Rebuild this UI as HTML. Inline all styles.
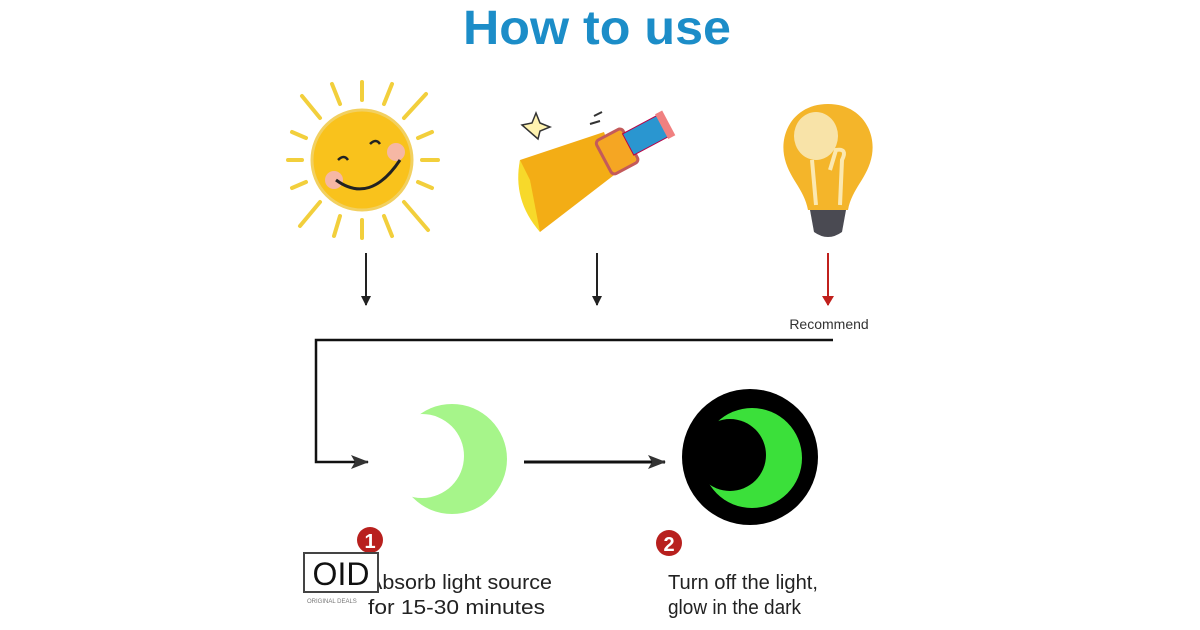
<!DOCTYPE html>
<html><head><meta charset="utf-8"><style>
html,body{margin:0;padding:0;background:#fff;}
svg{display:block;}
text{font-family:"Liberation Sans",sans-serif;}
</style></head><body>
<svg width="1200" height="630" viewBox="0 0 1200 630" xmlns="http://www.w3.org/2000/svg">
<defs>
<marker id="ah" markerWidth="10" markerHeight="10" refX="9" refY="5" orient="auto" markerUnits="userSpaceOnUse"><path d="M0,0 L10,5 L0,10 Z" fill="#222"/></marker>
<marker id="ahb" markerWidth="18" markerHeight="14" refX="17" refY="7" orient="auto" markerUnits="userSpaceOnUse"><path d="M0,0 L18,7 L0,14 L4,7 Z" fill="#333"/></marker>
<marker id="ahr" markerWidth="10" markerHeight="12" refX="9" refY="6" orient="auto" markerUnits="userSpaceOnUse"><path d="M0,0 L10,6 L0,12 Z" fill="#c0201c"/></marker>
<mask id="m1"><rect width="1200" height="630" fill="#000"/><circle cx="452" cy="459" r="55" fill="#fff"/><circle cx="422" cy="456" r="42" fill="#000"/></mask>
<mask id="m2"><rect width="1200" height="630" fill="#000"/><circle cx="752" cy="458" r="50" fill="#fff"/><circle cx="730" cy="455" r="36" fill="#000"/></mask>
</defs>
<text x="597" y="44" text-anchor="middle" font-size="48" font-weight="bold" fill="#1c8dc8" textLength="268" lengthAdjust="spacingAndGlyphs">How to use</text>

<!-- sun -->
<g stroke="#f2cf3c" stroke-width="4" stroke-linecap="round">
<line x1="362" y1="100" x2="362" y2="82"/><line x1="362" y1="220" x2="362" y2="238"/>
<line x1="302" y1="160" x2="288" y2="160"/><line x1="422" y1="160" x2="438" y2="160"/>
<line x1="320" y1="118" x2="302" y2="96"/><line x1="404" y1="118" x2="426" y2="94"/>
<line x1="320" y1="202" x2="300" y2="226"/><line x1="404" y1="202" x2="428" y2="230"/>
<line x1="340" y1="104" x2="332" y2="84"/><line x1="384" y1="104" x2="392" y2="84"/>
<line x1="340" y1="216" x2="334" y2="236"/><line x1="384" y1="216" x2="392" y2="236"/>
<line x1="306" y1="138" x2="292" y2="132"/><line x1="418" y1="138" x2="432" y2="132"/>
<line x1="306" y1="182" x2="292" y2="188"/><line x1="418" y1="182" x2="432" y2="188"/>
</g>
<circle cx="362" cy="160" r="50" fill="#f9c21c" stroke="#f2d060" stroke-width="3"/>
<circle cx="334" cy="180" r="9" fill="#f6b7a4"/><circle cx="396" cy="152" r="9" fill="#f6b7a4"/>
<path d="M336,180 Q370,205 400,160" stroke="#222" stroke-width="3" fill="none"/>
<path d="M338,160 q6,-6 10,0" stroke="#222" stroke-width="2.5" fill="none"/>
<path d="M370,144 q6,-6 10,0" stroke="#222" stroke-width="2.5" fill="none"/>

<!-- flashlight -->
<path d="M520,160 L604,132 L618,172 L540,232 Q515,200 520,160 Z" fill="#f3ad15"/>
<path d="M520,160 Q512,200 540,232 L530,180 Z" fill="#f7d92a"/>
<g transform="rotate(-28 625 145)">
<rect x="600" y="128" width="30" height="38" rx="4" fill="#f5a623" stroke="#c45a5a" stroke-width="3"/>
<rect x="628" y="134" width="40" height="24" fill="#2a96d0" stroke="#b04" stroke-width="1"/>
<rect x="666" y="132" width="8" height="28" fill="#f08080"/>
</g>
<path d="M522,125 l10,-2 l4,-10 l4,10 l10,4 l-10,4 l-2,8 z" fill="#fff3b0" stroke="#333" stroke-width="1.5"/>
<path d="M594,116 l8,-4 M590,124 l10,-3" stroke="#333" stroke-width="2"/>

<!-- bulb -->
<path d="M828,104 C860,104 876,130 872,155 C868,178 852,188 848,210 L808,210 C804,188 788,178 784,155 C780,130 796,104 828,104 Z" fill="#f4b52a"/>
<ellipse cx="816" cy="136" rx="22" ry="24" fill="#f8e3a8"/>
<path d="M816,205 L812,160 M840,205 L842,160 Q848,148 836,150 L830,170" stroke="#fbe8b0" stroke-width="4" fill="none"/>
<path d="M810,210 L846,210 L842,232 Q828,242 814,232 Z" fill="#4a4a52"/>

<!-- arrows down -->
<line x1="366" y1="253" x2="366" y2="305" stroke="#222" stroke-width="2" marker-end="url(#ah)"/>
<line x1="597" y1="253" x2="597" y2="305" stroke="#222" stroke-width="2" marker-end="url(#ah)"/>
<line x1="828" y1="253" x2="828" y2="305" stroke="#c0201c" stroke-width="2" marker-end="url(#ahr)"/>
<text x="829" y="329" text-anchor="middle" font-size="14" fill="#333">Recommend</text>

<!-- connector -->
<path d="M833,340 L316,340 L316,462 L368,462" stroke="#111" stroke-width="2.5" fill="none" marker-end="url(#ahb)"/>
<line x1="524" y1="462" x2="665" y2="462" stroke="#111" stroke-width="3" marker-end="url(#ahb)"/>

<!-- moons -->
<rect width="1200" height="630" fill="#a6f58a" mask="url(#m1)"/>
<circle cx="750" cy="457" r="68" fill="#000"/>
<rect width="1200" height="630" fill="#3be03a" mask="url(#m2)"/>

<!-- badges -->
<circle cx="370" cy="540" r="13" fill="#b8201e"/>
<text x="370" y="548" text-anchor="middle" font-size="20" font-weight="bold" fill="#fff">1</text>
<circle cx="669" cy="543" r="13" fill="#b8201e"/>
<text x="669" y="551" text-anchor="middle" font-size="20" font-weight="bold" fill="#fff">2</text>

<text x="368" y="589" font-size="20" fill="#222" textLength="184" lengthAdjust="spacingAndGlyphs">Absorb light source</text>
<text x="368" y="614" font-size="20" fill="#222" textLength="177" lengthAdjust="spacingAndGlyphs">for 15-30 minutes</text>
<text x="668" y="589" font-size="20" fill="#222" textLength="150" lengthAdjust="spacingAndGlyphs">Turn off the light,</text>
<text x="668" y="614" font-size="20" fill="#222" textLength="133" lengthAdjust="spacingAndGlyphs">glow in the dark</text>

<!-- logo -->
<rect x="304" y="553" width="74" height="39" fill="#fff" stroke="#444" stroke-width="2"/>
<text x="341" y="585" text-anchor="middle" font-size="32" fill="#111">OID</text>
<text x="307" y="603" font-size="6" fill="#777">ORIGINAL DEALS</text>
</svg>
</body></html>
